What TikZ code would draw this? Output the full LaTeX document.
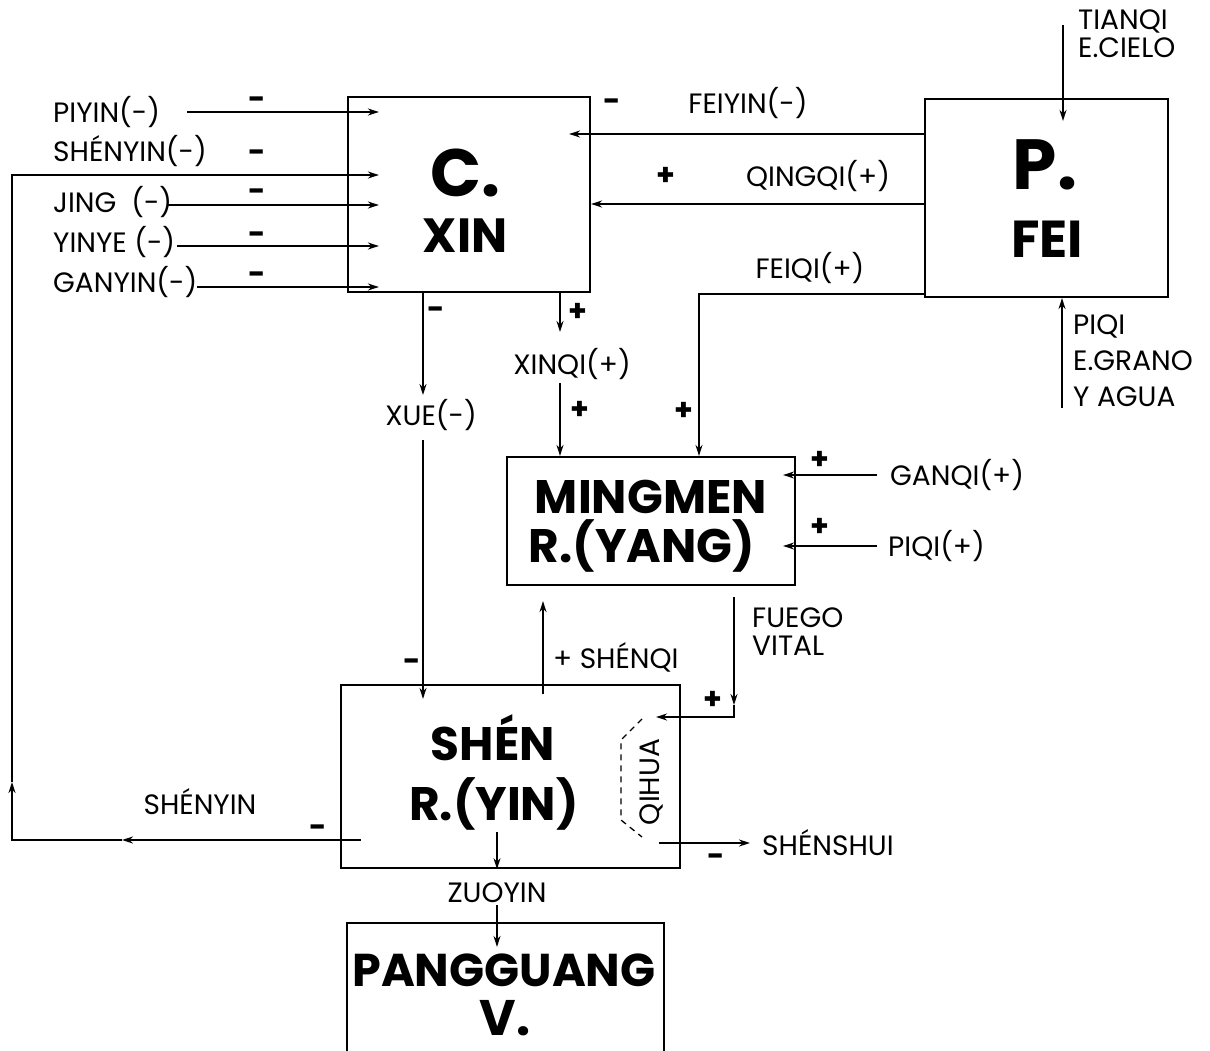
\documentclass[tikz,border=0pt]{standalone}
\usepackage{fontspec}
\setmainfont{Poppins}
\usetikzlibrary{arrows.meta}

\tikzset{
  organ/.style={draw, line width=2.2pt, inner sep=0pt},
  flow/.style={line width=1.6pt, -{Stealth[length=11pt,width=7pt]}},
  wire/.style={line width=1.6pt},
  lbl/.style={font=\fontsize{28}{28}\selectfont, inner sep=0pt},
  organname/.style={inner sep=0pt, anchor=base},
  sgn/.style={font=\fontsize{30}{30}\selectfont\bfseries, inner sep=0pt},
}

\begin{document}
\begin{tikzpicture}[x=1pt, y=-1pt]
    \useasboundingbox (0,0) rectangle (1210,1051);
    \clip (0,0) rectangle (1210,1051);

    % organs
    \node[organ, minimum width=242pt, minimum height=195pt] (xin) at (469,194.5) {};
    \node[organ, minimum width=243pt, minimum height=198pt] (fei) at (1046.5,198) {};
    \node[organ, minimum width=288pt, minimum height=128pt] (mingmen) at (651,521) {};
    \node[organ, minimum width=339pt, minimum height=183pt] (shen) at (510.5,776.5) {};
    \node[organ, minimum width=317pt, minimum height=160pt] (pangguang) at (505.5,1003) {};

    \node[organname, font=\fontsize{67}{67}\selectfont\bfseries] (xinA) at (465,197) {C.};
    \node[organname, font=\fontsize{48}{48}\selectfont\bfseries] (xinB) at (465,252) {XIN};
    \node[organname, font=\fontsize{71}{71}\selectfont\bfseries] (feiA) at (1045,190) {P.};
    \node[organname, font=\fontsize{52}{52}\selectfont\bfseries] (feiB) at (1047,258) {FEI};
    \node[organname, font=\fontsize{47}{47}\selectfont\bfseries] (mingmenA) at (651,513) {MINGMEN};
    \node[organname, font=\fontsize{47}{47}\selectfont\bfseries] (mingmenB) at (642,562) {R.(YANG)};
    \node[organname, font=\fontsize{47}{47}\selectfont\bfseries] (shenA) at (493,760) {SHÉN};
    \node[organname, font=\fontsize{47}{47}\selectfont\bfseries] (shenB) at (494,820) {R.(YIN)};
    \node[organname, font=\fontsize{46}{46}\selectfont\bfseries] (pangguangA) at (504,986) {PANGGUANG};
    \node[organname, font=\fontsize{50}{50}\selectfont\bfseries] (pangguangB) at (505,1035) {V.};

    % yin inputs to xin
    \node[lbl, anchor=west] (piyin) at (53,112) {PIYIN(-)};
    \node[lbl, anchor=west] (shenyinin) at (53,151) {SHÉNYIN(-)};
    \node[lbl, anchor=west] (jing) at (53,202) {JING\ \ (-)};
    \node[lbl, anchor=west] (yinye) at (53,242) {YINYE (-)};
    \node[lbl, anchor=west] (ganyin) at (53,282) {GANYIN(-)};
    \coordinate (piyinS) at (187,112);
    \coordinate (jingS) at (167,205);
    \coordinate (yinyeS) at (177,246);
    \coordinate (ganyinS) at (197,287);
    \draw[flow, shorten >=-32pt] (piyinS) -- (piyinS -| xin.west);
    \draw[flow, shorten >=-32pt] (jingS) -- (jingS -| xin.west);
    \draw[flow, shorten >=-32pt] (yinyeS) -- (yinyeS -| xin.west);
    \draw[flow, shorten >=-32pt] (ganyinS) -- (ganyinS -| xin.west);
    \node[sgn] (m1) at (257,103) {-};
    \node[sgn] (m2) at (257,156) {-};
    \node[sgn] (m3) at (257,195) {-};
    \node[sgn] (m4) at (257,238) {-};
    \node[sgn] (m5) at (257,278) {-};

    % shenyin feedback loop
    \coordinate (fbMid) at (122,840);
    \coordinate (fbTurn) at (12,840);
    \coordinate (fbUp) at (12,782);
    \coordinate (fbTop) at (12,175);
    \draw[flow, shorten <=-21pt] (shen.west |- fbMid) -- (fbMid);
    \draw[flow] (fbMid) -- (fbTurn) -- (fbUp);
    \draw[flow, shorten >=-32pt] (fbUp) -- (fbTop) -- (fbTop -| xin.west);
    \node[lbl] (shenyin) at (200,802) {SHÉNYIN};
    \node[sgn] (m6) at (318,831) {-};

    % fei to xin
    \node[lbl] (feiyin) at (748,103) {FEIYIN(-)};
    \node[lbl] (qingqi) at (818,176) {QINGQI(+)};
    \node[lbl] (feiqi) at (810,268) {FEIQI(+)};
    \draw[flow, shorten >=-22pt] (fei.west |- 0,134) -- (xin.east |- 0,134);
    \draw[flow] (fei.west |- 0,204) -- (xin.east |- 0,204);
    \draw[flow] (fei.west |- 0,294) -| (mingmen.north -| 699,0);
    \node[sgn] (m7) at (612,105) {-};
    \node[sgn] (p1) at (666,176) {+};
    \node[sgn] (p2) at (684,411) {+};

    % outer qi into fei
    \node[lbl, anchor=north west, align=left] (tianqi) at (1078,10) {TIANQI\\E.CIELO};
    \node[lbl, anchor=north west, align=left, font=\fontsize{28}{36}\selectfont] (piqiE) at (1073,315) {PIQI\\E.GRANO\\Y AGUA};
    \coordinate (tianqiS) at (1063,25);
    \coordinate (piqiS) at (1062,408);
    \draw[flow, shorten >=-23pt] (tianqiS) -- (tianqiS |- fei.north);
    \draw[flow] (piqiS) -- (piqiS |- fei.south);

    % xin downwards
    \coordinate (xueA) at (423,395);
    \coordinate (xueB) at (423,440);
    \draw[flow] (xueA |- xin.south) -- (xueA);
    \node[lbl] (xue) at (431,415) {XUE(-)};
    \draw[flow, shorten >=-15pt] (xueB) -- (xueB |- shen.north);
    \node[sgn] (m8) at (436,313) {-};
    \node[sgn] (m9) at (412,665) {-};
    \coordinate (xinqiA) at (560,332);
    \coordinate (xinqiB) at (560,383);
    \draw[flow] (xinqiA |- xin.south) -- (xinqiA);
    \node[lbl] (xinqi) at (572,364) {XINQI(+)};
    \draw[flow] (xinqiB) -- (xinqiB |- mingmen.north);
    \node[sgn] (p3) at (578,312) {+};
    \node[sgn] (p4) at (580,410) {+};

    % into mingmen
    \node[lbl, anchor=west] (ganqi) at (890,475) {GANQI(+)};
    \node[lbl, anchor=west] (piqi) at (888,546) {PIQI(+)};
    \draw[flow, shorten <=13pt, shorten >=-13pt] (ganqi.west) -- (ganqi.west -| mingmen.east);
    \draw[flow, shorten <=11pt, shorten >=-13pt] (piqi.west) -- (piqi.west -| mingmen.east);
    \node[sgn] (p5) at (820,460) {+};
    \node[sgn] (p6) at (820,527) {+};

    % shen and mingmen
    \draw[flow, shorten <=-10pt, shorten >=15pt] (shen.north -| 543,0) -- (mingmen.south -| 543,0);
    \node[lbl, anchor=west] (shenqi) at (553,657) {+ SHÉNQI};
    \node[lbl, anchor=west, align=left] (fuego) at (752,632) {FUEGO\\VITAL};
    \coordinate (fuegoT) at (734,597);
    \coordinate (fuegoM) at (734,705);
    \coordinate (fuegoC) at (734,717);
    \draw[flow] (fuegoT) -- (fuegoM);
    \draw[flow, shorten >=-25pt] (fuegoM) -- (fuegoC) -- (fuegoC -| shen.east);
    \node[sgn] (p7) at (713,700) {+};

    % qihua
    \node[lbl, rotate=90] (qihua) at (651,782) {QIHUA};
    \draw[line width=1.3pt, dash pattern=on 6pt off 5pt] (642,719) -- (621,740) -- (621,820) -- (642,837);
    \node[lbl, anchor=west] (shenshui) at (762,843) {SHÉNSHUI};
    \draw[flow, shorten <=-22pt, shorten >=12pt] (shen.east |- shenshui.west) -- (shenshui.west);
    \node[sgn] (m10) at (716,860) {-};

    % zuoyin
    \coordinate (zuoA) at (497,832);
    \coordinate (zuoB) at (497,905);
    \draw[flow] (zuoA) -- (zuoA |- shen.south);
    \node[lbl] (zuoyin) at (497,893) {ZUOYIN};
    \draw[flow, shorten >=-25pt] (zuoB) -- (zuoB |- pangguang.north);
\end{tikzpicture}
\end{document}
